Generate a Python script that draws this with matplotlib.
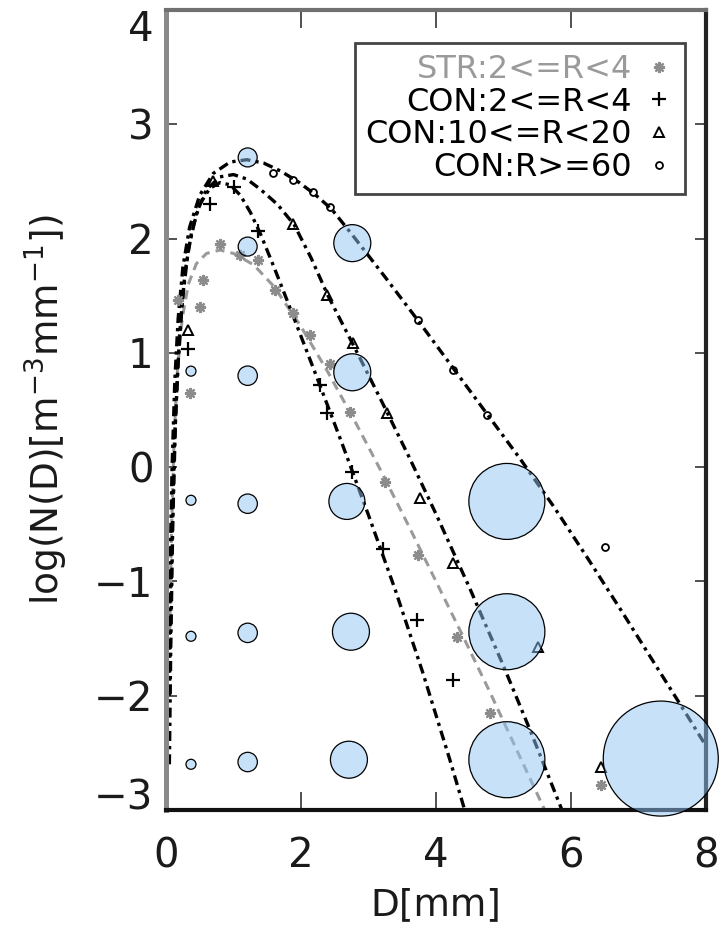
import matplotlib
matplotlib.use("Agg")
import matplotlib.pyplot as plt

# fitted size distributions
str_fit_d = [0.05, 0.08, 0.12, 0.17, 0.24, 0.33, 0.45, 0.6, 0.8, 1.0, 1.3, 1.6,
             2.0, 2.4, 2.8, 3.2, 3.6, 4.0, 4.4, 4.8, 5.2, 5.65]
str_fit_y = [-1.6, -0.6, 0.25, 0.85, 1.3, 1.6, 1.78, 1.87, 1.9, 1.87, 1.77, 1.58,
             1.23, 0.83, 0.4, -0.05, -0.52, -1.0, -1.48, -1.97, -2.48, -3.05]

con24_fit_d = [0.05, 0.07, 0.1, 0.14, 0.2, 0.28, 0.38, 0.5, 0.65, 0.8, 0.95, 1.1,
               1.25, 1.4, 1.6, 1.8, 2.2, 2.6, 3.0, 3.4, 3.8, 4.2, 4.45]
con24_fit_y = [-2.6, -1.6, -0.5, 0.4, 1.15, 1.7, 2.06, 2.3, 2.44, 2.49, 2.47, 2.38,
               2.23, 2.04, 1.75, 1.45, 0.84, 0.22, -0.42, -1.08, -1.79, -2.55, -3.05]

con1020_fit_d = [0.05, 0.08, 0.12, 0.17, 0.24, 0.33, 0.45, 0.6, 0.8, 1.0, 1.2, 1.4,
                 1.65, 1.9, 2.15, 2.4, 2.8, 3.2, 3.6, 4.0, 4.5, 5.0, 5.4, 5.9]
con1020_fit_y = [-2.0, -0.9, 0.1, 0.85, 1.45, 1.9, 2.22, 2.43, 2.54, 2.56, 2.52, 2.43,
                 2.3, 2.12, 1.83, 1.5, 1.04, 0.57, 0.09, -0.41, -1.06, -1.74, -2.31, -3.05]

con60_fit_d = [0.04, 0.06, 0.09, 0.13, 0.18, 0.25, 0.35, 0.5, 0.7, 0.95, 1.2, 1.45,
               1.7, 1.95, 2.2, 2.45, 2.75, 3.25, 3.75, 4.25, 4.75, 5.25, 5.75, 6.25,
               6.75, 7.25, 7.75, 8.0]
con60_fit_y = [-1.8, -0.9, 0.0, 0.75, 1.3, 1.75, 2.1, 2.38, 2.57, 2.67, 2.69, 2.66,
               2.59, 2.5, 2.39, 2.26, 2.04, 1.66, 1.27, 0.87, 0.47, 0.07, -0.35, -0.8,
               -1.26, -1.73, -2.2, -2.44]

# observed points
str_pts_d = [0.18, 0.36, 0.5, 0.55, 0.8, 1.1, 1.36, 1.61, 1.88, 2.13, 2.43, 2.73,
             3.24, 3.73, 4.31, 4.8, 6.45]
str_pts_y = [1.46, 0.65, 1.4, 1.64, 1.95, 1.86, 1.81, 1.55, 1.35, 1.16, 0.9, 0.48,
             -0.13, -0.77, -1.49, -2.15, -2.78]

con24_pts_d = [0.33, 0.65, 1.0, 1.36, 2.28, 2.38, 2.76, 3.21, 3.72, 4.25]
con24_pts_y = [1.03, 2.3, 2.45, 2.07, 0.72, 0.47, -0.04, -0.72, -1.34, -1.86]

con1020_pts_d = [0.33, 0.7, 1.88, 2.38, 2.77, 3.27, 3.76, 4.25, 5.51, 6.45]
con1020_pts_y = [1.2, 2.5, 2.13, 1.51, 1.09, 0.47, -0.27, -0.84, -1.57, -2.62]

con60_pts_d = [1.59, 1.88, 2.18, 2.43, 3.73, 4.25, 4.76, 6.5]
con60_pts_y = [2.57, 2.51, 2.41, 2.28, 1.29, 0.85, 0.46, -0.7]

legend_labels = ["STR:2<=R<4", "CON:2<=R<4", "CON:10<=R<20", "CON:R>=60"]

# overlaid bubbles: centre and radius (pixels)
bubble_d = [1.21,
            1.21, 2.76,
            0.37, 1.21, 2.76,
            0.37, 1.21, 2.68, 5.05,
            0.37, 1.21, 2.74, 5.05,
            0.37, 1.21, 2.71, 5.05, 7.33]
bubble_y = [2.71,
            1.93, 1.96,
            0.84, 0.80, 0.83,
            -0.29, -0.32, -0.30, -0.30,
            -1.48, -1.45, -1.44, -1.44,
            -2.60, -2.58, -2.56, -2.56, -2.55]
bubble_r = [9.5,
            9.5, 18.5,
            5, 9.7, 18.5,
            5, 9.7, 18, 38,
            5, 9.7, 18.5, 38,
            5, 9.7, 18.5, 38, 57.5]

DPI = 100
fig = plt.figure(figsize=(7.26, 9.33), dpi=DPI)
ax = fig.add_axes([166 / 726, 1 - 810 / 933, 540 / 726, 800 / 933])

dashdot = (0, (3, 1.5, 1, 1.5))
ax.plot(str_fit_d, str_fit_y, color="#9a9a9a", lw=2.2, ls=(0, (3, 2)))
ax.plot(con24_fit_d, con24_fit_y, color="black", lw=2.4, ls=dashdot)
ax.plot(con1020_fit_d, con1020_fit_y, color="black", lw=2.4, ls=dashdot)
ax.plot(con60_fit_d, con60_fit_y, color="black", lw=2.4, ls=dashdot)

h_str, = ax.plot(str_pts_d, str_pts_y, ls="none", marker=(8, 2, 0), ms=8,
                 mew=1.6, color="#8c8c8c")
h_24, = ax.plot(con24_pts_d, con24_pts_y, ls="none", marker="+", ms=10,
                mew=1.6, color="black")
h_1020, = ax.plot(con1020_pts_d, con1020_pts_y, ls="none", marker="^", ms=7,
                  mew=1.4, mfc="none", color="black")
h_60, = ax.plot(con60_pts_d, con60_pts_y, ls="none", marker="o", ms=5,
                mew=1.3, mfc="none", color="black")

sizes = [(2 * r * 72 / DPI) ** 2 for r in bubble_r]
ax.scatter(bubble_d, bubble_y, s=sizes, facecolors=(0.57, 0.77, 0.96, 0.5),
           edgecolors="black", linewidths=0.9, zorder=6, clip_on=False)

ax.set_xlim(0, 8)
ax.set_ylim(-3, 4)
ax.set_xticks([0, 2, 4, 6, 8])
ax.set_yticks(range(-3, 5))

ax.tick_params(direction="in", top=True, right=True, labelsize=29,
               color="#333333", labelcolor="#1a1a1a", width=1.2)
ax.tick_params(axis="x", length=13, pad=19)
ax.tick_params(axis="y", length=8, pad=9)

ylabels = ax.get_yticklabels()
ylabels[0].set_va("baseline")
ylabels[-1].set_va("top")

ax.spines["left"].set_color("#8a8a8a")
ax.spines["left"].set_linewidth(3.6)
ax.spines["top"].set_color("#707070")
ax.spines["top"].set_linewidth(3.0)
ax.spines["right"].set_color("#222222")
ax.spines["right"].set_linewidth(3.0)
ax.spines["bottom"].set_color("#111111")
ax.spines["bottom"].set_linewidth(3.0)

ax.set_xlabel("D[mm]", fontsize=27, color="#1a1a1a")
ax.xaxis.set_label_coords(0.5, -0.097)
ax.set_ylabel("log(N(D)[m$^{-3}$mm$^{-1}$])", fontsize=27, color="#1a1a1a")
ax.yaxis.set_label_coords(-0.178, 0.5)

leg = ax.legend([h_str, h_24, h_1020, h_60], legend_labels, loc="upper right",
                bbox_to_anchor=(0.961, 0.959), borderaxespad=0, markerfirst=False,
                fontsize=23, frameon=True, fancybox=False, edgecolor="#444444",
                framealpha=1, handlelength=0.9, handletextpad=0.4, borderpad=0.35,
                labelspacing=0.05, labelcolor=["#9a9a9a", "black", "black", "black"])
leg.get_frame().set_linewidth(2.0)

fig.savefig("out.png", dpi=DPI)
